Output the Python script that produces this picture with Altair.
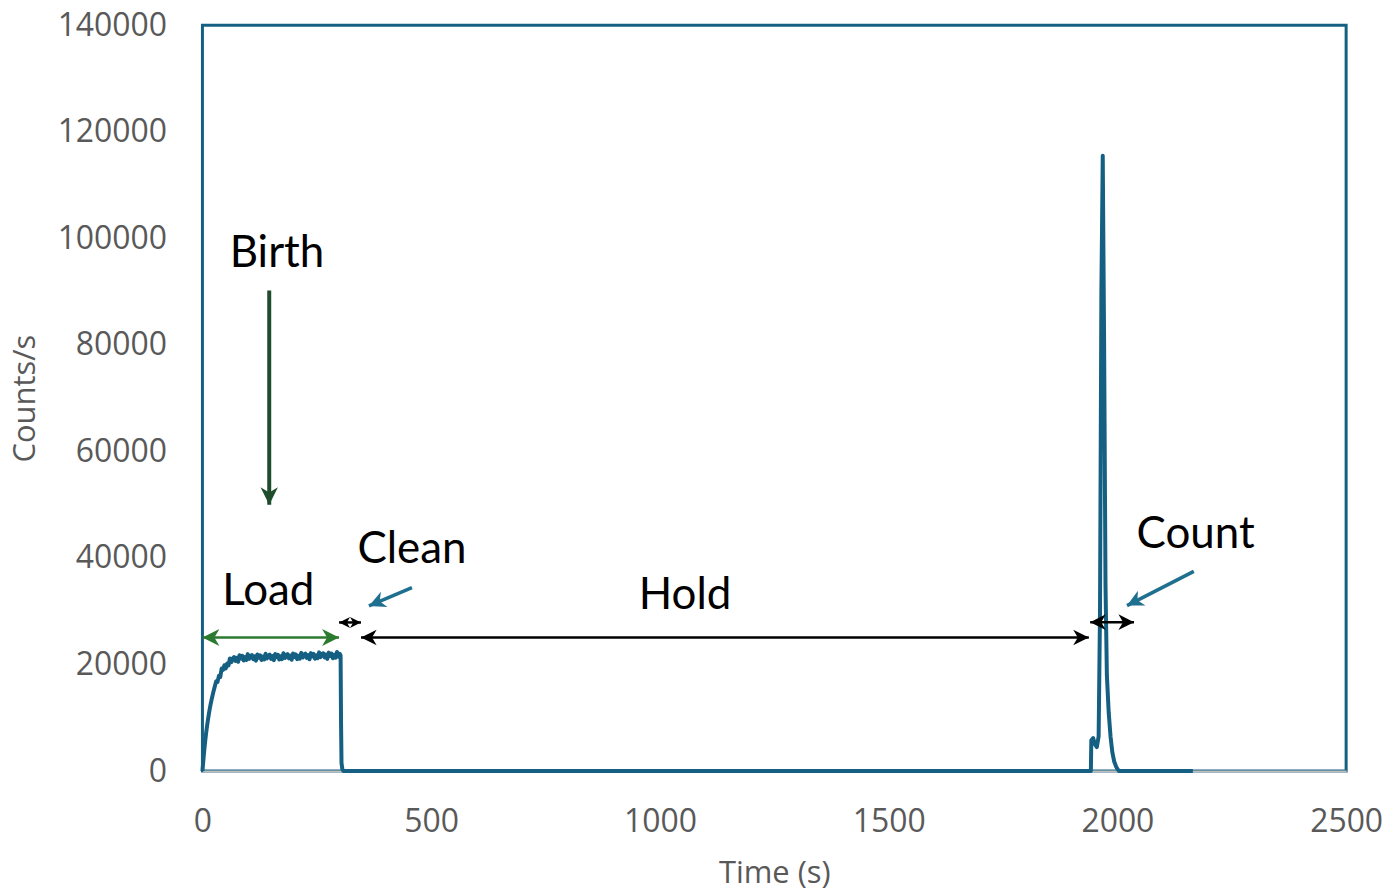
import math
import altair as alt
import pandas as pd

# ---- main series ----
time_s = [0, 2, 4, 6, 8, 10, 12, 14, 16, 18, 20, 24, 27,
          30, 33, 36, 39, 42, 45, 48, 51, 54, 57, 60, 63, 66, 69, 72, 75, 78, 81, 84, 87,
          90, 93, 96, 99, 102, 105, 108, 111, 114, 117, 120, 123, 126, 129, 132, 135,
          138, 141, 144, 147, 150, 153, 156, 159, 162, 165, 168, 171, 174, 177, 180,
          183, 186, 189, 192, 195, 198, 201, 204, 207, 210, 213, 216, 219, 222, 225,
          228, 231, 234, 237, 240, 243, 246, 249, 252, 255, 258, 261, 264, 267, 270,
          273, 276, 279, 282, 285, 288, 291, 294, 297, 300, 302, 303, 304, 306, 309,
          1940, 1942, 1943, 1947, 1951, 1955, 1959, 1962, 1965, 1968, 1971, 1974,
          1977, 1981, 1985, 1989, 1993, 1997, 2000, 2004, 2165]
counts = [0, 2000, 3900, 5600, 7100, 8400, 9600, 10700, 11700, 12600, 13400, 14900, 15900,
          16850, 16740, 17880, 17670, 19240, 19010, 19860, 19260, 20190, 19850, 21130,
          20430, 21120, 21400, 20690, 21280, 20520, 21740, 21160, 21640,
          20760, 21400, 20860, 21950, 21060, 21600, 21790, 20990, 21530, 20730, 21900,
          21280, 21740, 20840, 21480, 20950, 22030, 21140, 21690, 21870, 21070, 21610,
          20810, 21990, 21360, 21820, 20930, 21560, 21030, 22120, 21220, 21770, 21960,
          21150, 21700, 20900, 22070, 21450, 21900, 21010, 21650, 21110, 22200, 21310,
          21850, 22040, 21240, 21780, 20980, 22150, 21530, 21990, 21090, 21730, 21200,
          22280, 21390, 21940, 22120, 21320, 21870, 21060, 22240, 21610, 22070, 21180,
          21810, 21280, 22370, 21470, 22020, 21700, 9000, 1500, 300, 0,
          0, 0, 5800, 6200, 5000, 4500, 6500, 30000, 90000, 115500, 80000, 35000,
          18000, 11000, 6500, 3500, 1800, 900, 400, 0, 0]

# ---- annotation labels ----
label_text = ["Birth", "Load", "Clean", "Hold", "Count"]
label_x = [163, 144, 458, 1055, 2171]
label_y = [97100, 33700, 41550, 32950, 44300]

# ---- annotation arrows (start -> tip, in data units) ----
arrow_x1 = [146, 0, 298.6, 346.6, 1940.5, 458, 2167]
arrow_y1 = [90200, 25080, 27900, 25080, 27950, 34440, 37490]
arrow_x2 = [146, 298.6, 346.6, 1937.6, 2036.4, 364, 2021]
arrow_y2 = [50000, 25080, 27900, 25080, 27950, 31000, 31060]
arrow_double = [False, True, True, True, True, False, False]
arrow_color = ["#1f4d2b", "#2b7a30", "#000000", "#000000", "#000000", "#1f6f8f", "#1f6f8f"]
arrow_width = [4, 2.5, 2.5, 2.5, 2.5, 3.5, 3.5]
arrow_head = [420, 400, 170, 340, 340, 380, 380]

BLUE = "#156082"
GREY = "#595959"

line_df = pd.DataFrame({"t": time_s, "c": counts})
label_df = pd.DataFrame({"x": label_x, "y": label_y, "txt": label_text})

# head orientation (screen-space direction of each arrow)
PX_S = 1147 / 2500
PX_C = 748 / 140000
seg_rows, head_rows = [], []
for i in range(len(arrow_x1)):
    seg_rows.append(dict(x=arrow_x1[i], y=arrow_y1[i], x2=arrow_x2[i], y2=arrow_y2[i],
                         col=arrow_color[i], w=arrow_width[i]))
    dx = (arrow_x2[i] - arrow_x1[i]) * PX_S
    dy = -(arrow_y2[i] - arrow_y1[i]) * PX_C
    ang = math.degrees(math.atan2(dx, -dy)) % 360
    head_rows.append(dict(x=arrow_x2[i], y=arrow_y2[i], ang=ang, col=arrow_color[i], s=arrow_head[i]))
    if arrow_double[i]:
        head_rows.append(dict(x=arrow_x1[i], y=arrow_y1[i], ang=(ang + 180) % 360,
                              col=arrow_color[i], s=arrow_head[i]))
seg_df = pd.DataFrame(seg_rows)
head_df = pd.DataFrame(head_rows)

xscale = alt.Scale(domain=[0, 2500], nice=False, zero=True)
yscale = alt.Scale(domain=[0, 140000], nice=False)

xaxis = alt.Axis(values=[0, 500, 1000, 1500, 2000, 2500], format="d", title="Time (s)",
                 grid=False, ticks=False, labelPadding=36, labelFontSize=32,
                 labelFlush=False, labelOverlap=False,
                 labelColor=GREY, labelFont="Open Sans", titleFont="Open Sans",
                 titleFontSize=31, titleFontWeight="normal", titleColor=GREY,
                 titleBaseline="alphabetic", titleY=112,
                 domainColor="#bfbfbf", domainWidth=2)
yaxis = alt.Axis(values=list(range(0, 140001, 20000)), format="d", title="Counts/s",
                 grid=False, ticks=False, labelPadding=36, labelFontSize=32,
                 labelFlush=False, labelOverlap=False,
                 labelColor=GREY, labelFont="Open Sans", titleFont="Open Sans",
                 titleFontSize=31, titleFontWeight="normal", titleColor=GREY,
                 titleAngle=270, titleBaseline="middle", titleX=-177, titleY=374,
                 domain=False)

line = alt.Chart(line_df).mark_line(color=BLUE, strokeWidth=4, strokeJoin="round").encode(
    x=alt.X("t:Q", scale=xscale, axis=xaxis),
    y=alt.Y("c:Q", scale=yscale, axis=yaxis),
)

segs = alt.Chart(seg_df).mark_rule(strokeCap="butt").encode(
    x="x:Q", y="y:Q", x2="x2:Q", y2="y2:Q",
    color=alt.Color("col:N", scale=None),
    strokeWidth=alt.StrokeWidth("w:Q", scale=None),
)

heads = alt.Chart(head_df).mark_point(
    shape="M0,0 L0.85,1.7 L0,1.2 L-0.85,1.7 Z", filled=True, opacity=1, strokeWidth=0
).encode(
    x="x:Q", y="y:Q",
    angle=alt.Angle("ang:Q", scale=None),
    color=alt.Color("col:N", scale=None),
    size=alt.Size("s:Q", scale=None),
)

labels = alt.Chart(label_df).mark_text(
    font="Lato", fontSize=44, color="#000000", align="center", baseline="middle"
).encode(x="x:Q", y="y:Q", text="txt:N")

chart = alt.layer(line, segs, heads, labels).properties(
    width=1147, height=748,
    autosize=alt.AutoSizeParams(type="none"),
    padding={"left": 195, "top": 16, "right": 45, "bottom": 130},
).configure_view(stroke=BLUE, strokeWidth=3)

chart.save("out.html", embed_options={"renderer": "svg", "actions": False})
